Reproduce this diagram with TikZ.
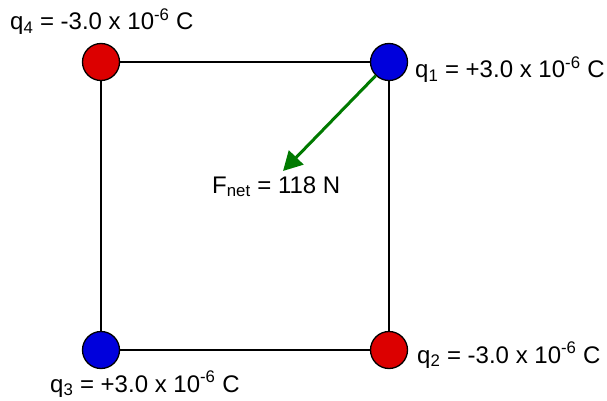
\documentclass[tikz,border=0pt]{standalone}
\usepackage{fontspec}
\setmainfont{Liberation Sans}
\usepackage{tikz}
\usetikzlibrary{arrows.meta, positioning}

\definecolor{chargeblue}{RGB}{0,0,220}
\definecolor{chargered}{RGB}{220,0,0}
\definecolor{forcegreen}{RGB}{0,122,0}

\begin{document}
\begin{tikzpicture}[
    x=1pt, y=-1pt,
    charge/.style={circle, draw=black, line width=1.3pt, minimum size=37pt, inner sep=0pt},
    poscharge/.style={charge, fill=chargeblue},
    negcharge/.style={charge, fill=chargered},
    side/.style={draw=black, line width=1.5pt},
    force/.style={draw=forcegreen, line width=3pt, -{Triangle[length=19pt, width=20pt]}},
    lbl/.style={anchor=base west, inner sep=0pt, font=\fontsize{24}{28}\selectfont}
]
\useasboundingbox (0,0) rectangle (607,401);

% charges at the corners
\node[negcharge] (q4) at (101,62) {};
\node[poscharge] (q1) at (389,62) {};
\node[poscharge] (q3) at (101,350) {};
\node[negcharge] (q2) at (389,350) {};

% sides of the square
\draw[side] (q4) -- (q1);
\draw[side] (q1) -- (q2);
\draw[side] (q2) -- (q3);
\draw[side] (q3) -- (q4);

% net force on q1
\coordinate (ftip) at (283,171);
\draw[force] (q1) -- (ftip);

% labels
\node[lbl] (l4) at (10,30) {q\textsubscript{4} = -3.0 x 10\textsuperscript{-6} C};
\node[lbl] (l1) at (415,78) {q\textsubscript{1} = +3.0 x 10\textsuperscript{-6} C};
\node[lbl] (l2) at (417,363) {q\textsubscript{2} = -3.0 x 10\textsuperscript{-6} C};
\node[lbl] (l3) at (50,392) {q\textsubscript{3} = +3.0 x 10\textsuperscript{-6} C};
\node[lbl] (fnet) at (212,193) {F\textsubscript{net} = 118 N};

\end{tikzpicture}
\end{document}
